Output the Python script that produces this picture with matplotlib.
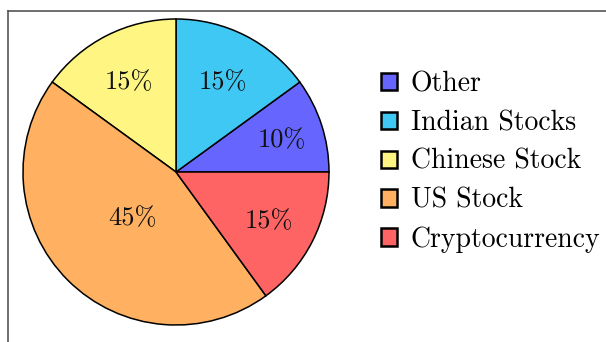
import numpy as np
import matplotlib
matplotlib.use("Agg")
import matplotlib.pyplot as plt
from matplotlib.lines import Line2D
from matplotlib.patches import Patch

# data
labels = ["Other", "Indian Stocks", "Chinese Stock", "US Stock", "Cryptocurrency"]
shares = [10, 15, 15, 45, 15]
colors = ["#6666ff", "#40c8f4", "#fff582", "#ffb060", "#ff6464"]
label_dist = [0.73, 0.68, 0.68, 0.40, 0.68]

plt.rcParams["font.family"] = ["cmr10", "DejaVu Serif"]
plt.rcParams["axes.formatter.use_mathtext"] = True

fig = plt.figure(figsize=(6.06, 3.42), dpi=100)
ax = fig.add_axes([23 / 606, 17 / 342, 306 / 606, 306 / 342])

wedges, _ = ax.pie(shares, colors=colors, startangle=0, counterclock=True,
                   radius=1, wedgeprops=dict(edgecolor="black", linewidth=1.1))
ax.set_xlim(-1, 1)
ax.set_ylim(-1, 1)
ax.set_aspect("equal")
ax.axis("off")

# percentage labels
start = 0
for v, d in zip(shares, label_dist):
    mid = np.deg2rad((start + v / 2) * 3.6)
    ax.text(d * np.cos(mid), d * np.sin(mid), f"{v}%", ha="center", va="center_baseline",
            fontsize=19, color="#111111")
    start += v

handles = [Patch(facecolor=c, edgecolor="black", linewidth=1.8) for c in colors]
fig.legend(handles, labels, loc="upper left", bbox_to_anchor=(381 / 606, 1 - 71 / 342),
           frameon=False, fontsize=20, handlelength=0.57, handleheight=0.57,
           handletextpad=0.5, labelspacing=0.45, borderpad=0, borderaxespad=0)

# outer frame (top and left edges visible)
fig.add_artist(Line2D([8 / 606, 1], [1 - 11 / 342, 1 - 11 / 342], color="#555555", lw=1.2))
fig.add_artist(Line2D([8 / 606, 8 / 606], [0, 1 - 11 / 342], color="#555555", lw=1.2))

fig.savefig("out.png", dpi=100)
